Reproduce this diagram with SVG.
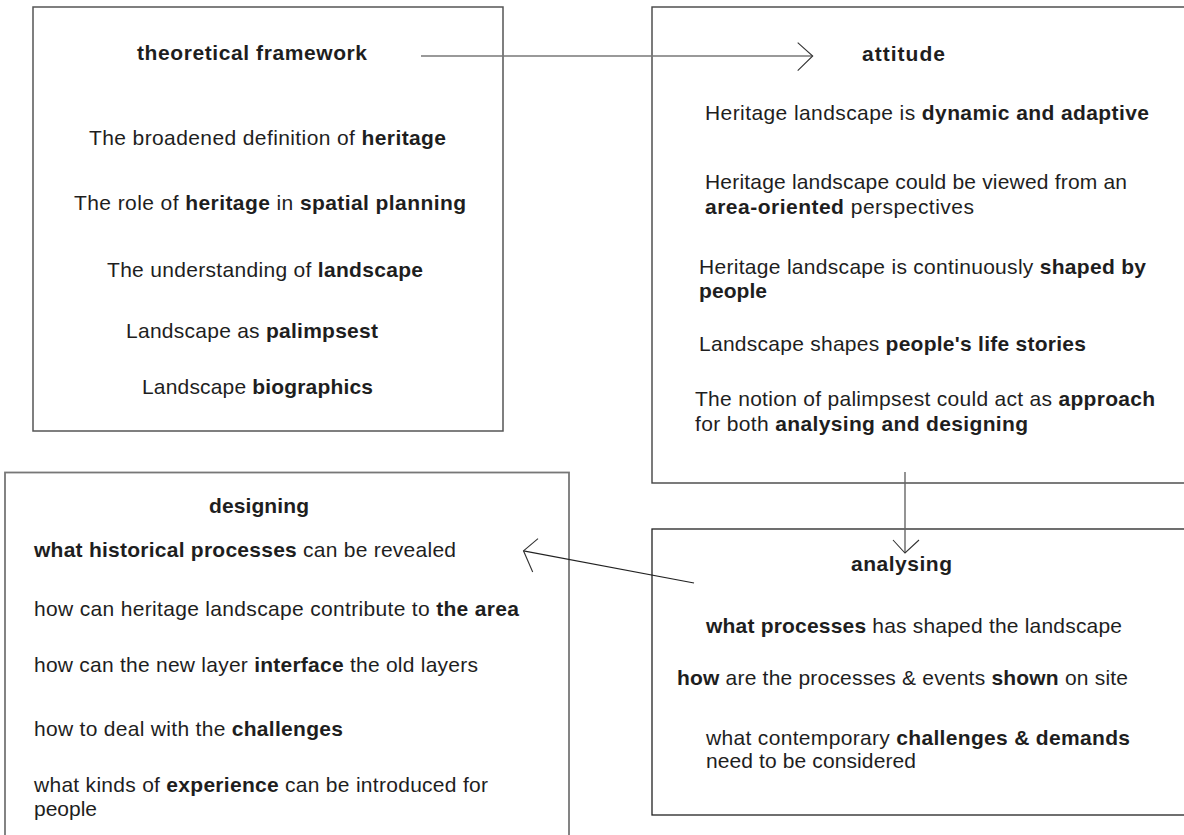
<svg xmlns="http://www.w3.org/2000/svg" width="1184" height="835" viewBox="0 0 1184 835">
<style>
text{font-family:"Liberation Sans",Arial,sans-serif;font-size:21px;fill:#1e1e1e}
.b{font-weight:bold}
.box{fill:none}
.ah{fill:none;stroke:#333;stroke-width:1.1}
</style>
<rect x="0" y="0" width="1184" height="835" fill="#fff"/>
<g id="theoretical-framework">
<rect class="box" x="33" y="7" width="470" height="424" stroke="#555" stroke-width="1.5"/>
<text class="b" x="137" y="60" textLength="230" lengthAdjust="spacing">theoretical framework</text>
<text x="89" y="145" textLength="357" lengthAdjust="spacing">The broadened definition of <tspan class="b">heritage</tspan></text>
<text x="74" y="210" textLength="392" lengthAdjust="spacing">The role of <tspan class="b">heritage</tspan> in <tspan class="b">spatial planning</tspan></text>
<text x="107" y="277" textLength="316" lengthAdjust="spacing">The understanding of <tspan class="b">landscape</tspan></text>
<text x="126" y="338" textLength="252" lengthAdjust="spacing">Landscape as <tspan class="b">palimpsest</tspan></text>
<text x="142" y="394" textLength="231" lengthAdjust="spacing">Landscape <tspan class="b">biographics</tspan></text>
</g>
<g id="attitude">
<rect class="box" x="652" y="7" width="560" height="476" stroke="#444" stroke-width="1.4"/>
<text class="b" x="862" y="61" textLength="83" lengthAdjust="spacing">attitude</text>
<text x="705" y="120" textLength="444" lengthAdjust="spacing">Heritage landscape is <tspan class="b">dynamic and adaptive</tspan></text>
<text x="705" y="189" textLength="422" lengthAdjust="spacing">Heritage landscape could be viewed from an</text>
<text x="705" y="214" textLength="269" lengthAdjust="spacing"><tspan class="b">area-oriented</tspan> perspectives</text>
<text x="699" y="274" textLength="447" lengthAdjust="spacing">Heritage landscape is continuously <tspan class="b">shaped by</tspan></text>
<text class="b" x="699" y="298" textLength="68" lengthAdjust="spacing">people</text>
<text x="699" y="351" textLength="387" lengthAdjust="spacing">Landscape shapes <tspan class="b">people's life stories</tspan></text>
<text x="695" y="406" textLength="460" lengthAdjust="spacing">The notion of palimpsest could act as <tspan class="b">approach</tspan></text>
<text x="695" y="431" textLength="333" lengthAdjust="spacing">for both <tspan class="b">analysing and designing</tspan></text>
</g>
<g id="designing">
<rect class="box" x="5" y="472.5" width="564" height="400" stroke="#777" stroke-width="1.8"/>
<text class="b" x="209" y="513" textLength="100" lengthAdjust="spacing">designing</text>
<text x="34" y="557" textLength="422" lengthAdjust="spacing"><tspan class="b">what historical processes</tspan> can be revealed</text>
<text x="34" y="616" textLength="485" lengthAdjust="spacing">how can heritage landscape contribute to <tspan class="b">the area</tspan></text>
<text x="34" y="672" textLength="444" lengthAdjust="spacing">how can the new layer <tspan class="b">interface</tspan> the old layers</text>
<text x="34" y="736" textLength="309" lengthAdjust="spacing">how to deal with the <tspan class="b">challenges</tspan></text>
<text x="34" y="792" textLength="454" lengthAdjust="spacing">what kinds of <tspan class="b">experience</tspan> can be introduced for</text>
<text x="34" y="816" textLength="63" lengthAdjust="spacing">people</text>
</g>
<g id="analysing">
<rect class="box" x="652" y="529" width="560" height="286" stroke="#222" stroke-width="1.3"/>
<text class="b" x="851" y="571" textLength="101" lengthAdjust="spacing">analysing</text>
<text x="706" y="633" textLength="416" lengthAdjust="spacing"><tspan class="b">what processes</tspan> has shaped the landscape</text>
<text x="677" y="685" textLength="451" lengthAdjust="spacing"><tspan class="b">how</tspan> are the processes &amp; events <tspan class="b">shown</tspan> on site</text>
<text x="706" y="745" textLength="424" lengthAdjust="spacing">what contemporary <tspan class="b">challenges &amp; demands</tspan></text>
<text x="706" y="768" textLength="210" lengthAdjust="spacing">need to be considered</text>
</g>
<g id="connectors">
<line x1="421" y1="56" x2="812.5" y2="56" stroke="#777" stroke-width="1.5"/>
<polyline class="ah" points="797.7,42.7 812.7,56 797.7,70.7"/>
<line x1="905" y1="472" x2="905" y2="553" stroke="#666" stroke-width="1.4"/>
<polyline class="ah" points="893,540 905,553 919,540"/>
<line x1="694" y1="583" x2="523.5" y2="550.8" stroke="#222" stroke-width="1.2"/>
<polyline class="ah" points="538,538.7 523.5,550.8 532.7,572"/>
</g>
</svg>
